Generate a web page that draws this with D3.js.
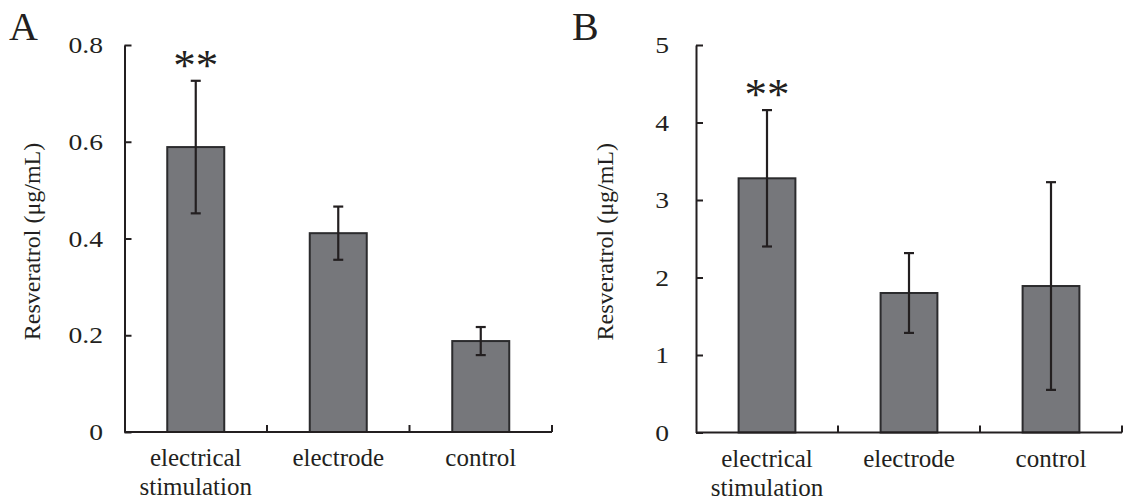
<!DOCTYPE html>
<html><head><meta charset="utf-8">
<script src="https://cdn.jsdelivr.net/npm/d3@7"></script>
<style>body{margin:0;background:#fff}svg{display:block}</style>
</head><body>
<svg id="c" width="1123" height="502"></svg>
<script>
const categories = ["electrical stimulation", "electrode", "control"];
const valuesA = [0.589, 0.411, 0.188];
const errorsA = [0.137, 0.055, 0.029];
const ticksA = [0, 0.2, 0.4, 0.6, 0.8];
const valuesB = [3.28, 1.80, 1.89];
const errorsB = [0.88, 0.515, 1.34];
const ticksB = [0, 1, 2, 3, 4, 5];
const sigA = ["**", "", ""];
const sigB = ["**", "", ""];
const yTitle = "Resveratrol (μg/mL)";

const svg = d3.select("#c");
const font = "'Liberation Serif','Times New Roman',serif";
const ink = "#231f20";
const sx = 1.15;

function panel(opt) {
  const g = svg.append("g").attr("transform", `translate(${opt.x0},0)`);
  const y = d3.scaleLinear().domain([0, opt.max]).range([opt.bottom, opt.top]);
  const x = d3.scaleBand().domain(categories).range([0, opt.w]).paddingInner(0.6).paddingOuter(0.3);
  const data = categories.map((c, i) => ({c, v: opt.values[i], e: opt.errors[i], s: opt.sig[i]}));

  // bars
  g.selectAll("rect.bar").data(data).join("rect")
    .attr("x", d => x(d.c)).attr("width", x.bandwidth())
    .attr("y", d => y(d.v)).attr("height", d => y(0) - y(d.v))
    .attr("fill", "#76777b").attr("stroke", "#2b2b2d").attr("stroke-width", 2);

  // error bars
  const cx = d => x(d.c) + x.bandwidth() / 2;
  const eg = g.selectAll("g.err").data(data).join("g").attr("stroke", ink).attr("stroke-width", 2.2);
  eg.append("line").attr("x1", cx).attr("x2", cx).attr("y1", d => y(d.v + d.e)).attr("y2", d => y(d.v - d.e));
  eg.append("line").attr("x1", d => cx(d) - 5).attr("x2", d => cx(d) + 5).attr("y1", d => y(d.v + d.e)).attr("y2", d => y(d.v + d.e));
  eg.append("line").attr("x1", d => cx(d) - 5).attr("x2", d => cx(d) + 5).attr("y1", d => y(d.v - d.e)).attr("y2", d => y(d.v - d.e));

  // significance
  g.selectAll("text.sig").data(data.filter(d => d.s)).join("text")
    .attr("x", cx).attr("y", d => y(d.v + d.e) - opt.sigGap)
    .attr("text-anchor", "middle").attr("font-family", font).attr("font-size", 45)
    .attr("fill", ink).text(d => d.s);

  // y axis
  const ya = g.append("g").call(d3.axisLeft(y).tickValues(opt.ticks).tickSize(-7).tickSizeOuter(0).tickPadding(opt.pad).tickFormat(opt.fmt));
  ya.select(".domain").attr("stroke", ink).attr("stroke-width", 2);
  ya.selectAll(".tick line").attr("stroke", ink).attr("stroke-width", 2);
  ya.selectAll(".tick text").attr("font-family", font).attr("font-size", 24).attr("fill", ink)
    .attr("x", -opt.pad / sx).attr("transform", `scale(${sx},1)`);

  // x axis
  const xa = g.append("g").attr("transform", `translate(0,${opt.bottom})`);
  xa.append("line").attr("x1", 0).attr("x2", opt.w).attr("stroke", ink).attr("stroke-width", 2);
  const bounds = d3.range(1, categories.length + 1).map(i => i * opt.w / categories.length);
  xa.selectAll("line.t").data(bounds).join("line").attr("class", "t")
    .attr("x1", d => d).attr("x2", d => d).attr("y1", 0).attr("y2", -7)
    .attr("stroke", ink).attr("stroke-width", 2);
  const lab = xa.selectAll("text.cat").data(categories).join("text")
    .attr("text-anchor", "middle").attr("font-family", font).attr("font-size", 25).attr("fill", ink)
    .attr("transform", d => `translate(${x(d) + x.bandwidth() / 2},0)`);
  lab.each(function(d) {
    const words = d === "electrical stimulation" ? ["electrical", "stimulation"] : [d];
    const t = d3.select(this);
    words.forEach((w, i) => t.append("tspan").attr("x", 0).attr("y", 34 + i * 29).text(w));
  });

  // y title
  g.append("text").attr("transform", `translate(${opt.titleX},${(opt.top + opt.bottom) / 2 + 3}) rotate(-90)`)
    .attr("text-anchor", "middle").attr("font-family", font).attr("font-size", 24).attr("fill", ink)
    .text(yTitle);

  // panel letter
  svg.append("text").attr("x", opt.letterX).attr("y", 40).attr("font-family", font).attr("font-size", 40)
    .attr("fill", ink).text(opt.letter);
}

panel({x0: 124.5, w: 427.5, top: 45, bottom: 432, max: 0.8, values: valuesA, errors: errorsA, ticks: ticksA, sig: sigA,
  fmt: d => d === 0 ? "0" : d3.format(".1f")(d), pad: 21.5, titleX: -84.5, letter: "A", letterX: 9, sigGap: 1});
panel({x0: 696, w: 426, top: 45, bottom: 432.5, max: 5, values: valuesB, errors: errorsB, ticks: ticksB, sig: sigB,
  fmt: d3.format("d"), pad: 27, titleX: -83, letter: "B", letterX: 572, sigGap: 1});
</script>
</body></html>
